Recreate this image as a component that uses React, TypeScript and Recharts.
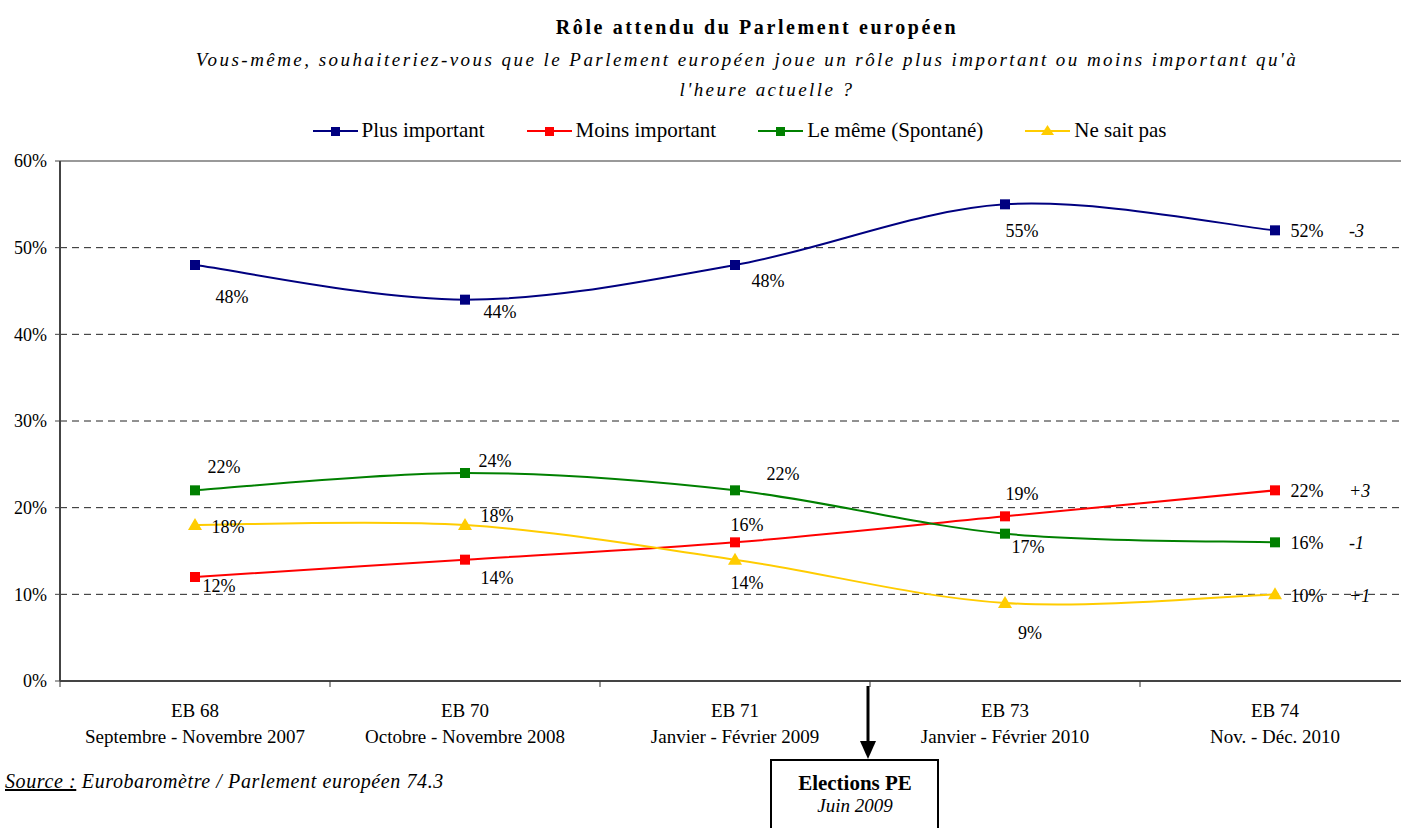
import React from 'react';
import {
  CartesianGrid,
  LabelList,
  Legend,
  Line,
  LineChart,
  ReferenceLine,
  XAxis,
  YAxis,
} from 'recharts';

const surveys = ['EB 68', 'EB 70', 'EB 71', 'EB 73', 'EB 74'];
const periods = [
  'Septembre - Novembre 2007',
  'Octobre - Novembre 2008',
  'Janvier - Février 2009',
  'Janvier - Février 2010',
  'Nov. - Déc. 2010',
];
const plusImportant = [48, 44, 48, 55, 52];
const moinsImportant = [12, 14, 16, 19, 22];
const leMeme = [22, 24, 22, 17, 16];
const neSaitPas = [18, 18, 14, 9, 10];
const yTicks = [0, 10, 20, 30, 40, 50, 60];

const series = [
  { key: 'plus', name: 'Plus important', values: plusImportant, change: '-3', color: '#000080', marker: 'square' },
  { key: 'moins', name: 'Moins important', values: moinsImportant, change: '+3', color: '#FF0000', marker: 'square' },
  { key: 'meme', name: 'Le même (Spontané)', values: leMeme, change: '-1', color: '#008000', marker: 'square' },
  { key: 'nsp', name: 'Ne sait pas', values: neSaitPas, change: '+1', color: '#FFCC00', marker: 'triangle' },
];

// label offsets from each point (text centre), per series
const labelOffsets: Record<string, number[][]> = {
  plus: [[37, 32], [35, 12], [33, 16], [17, 27], [32, 1]],
  moins: [[24, 9], [32, 18], [12, -17], [17, -22], [32, 1]],
  meme: [[29, -23], [30, -12], [48, -16], [23, 13], [32, 1]],
  nsp: [[33, 2], [32, -9], [12, 23], [25, 30], [32, 2]],
};

const data = surveys.map((s, i) => ({
  survey: s,
  plus: plusImportant[i],
  moins: moinsImportant[i],
  meme: leMeme[i],
  nsp: neSaitPas[i],
}));

const FONT = '"Liberation Serif", "Times New Roman", serif';
const CHART_W = 1420;
const CHART_H = 828;
const MARGIN = { top: 161, right: 10, bottom: 87, left: 0 };
const Y_AXIS_W = 60;
const X_AXIS_H = 60;
const PLOT_W = CHART_W - MARGIN.left - MARGIN.right - Y_AXIS_W;
const AXIS_Y = CHART_H - MARGIN.bottom - X_AXIS_H;
const HALF_STEP = PLOT_W / surveys.length / 2;

// Excel-like smoothed line (bezier with 1/6 tangents)
function excelCurve(context: any) {
  let xs: number[] = [];
  let ys: number[] = [];
  return {
    areaStart() {},
    areaEnd() {},
    lineStart() {
      xs = [];
      ys = [];
    },
    point(x: number, y: number) {
      xs.push(+x);
      ys.push(+y);
    },
    lineEnd() {
      const n = xs.length;
      if (!n) return;
      context.moveTo(xs[0], ys[0]);
      for (let i = 0; i < n - 1; i++) {
        const a = Math.max(i - 1, 0);
        const d = Math.min(i + 2, n - 1);
        context.bezierCurveTo(
          xs[i] + (xs[i + 1] - xs[a]) / 6,
          ys[i] + (ys[i + 1] - ys[a]) / 6,
          xs[i + 1] - (xs[d] - xs[i]) / 6,
          ys[i + 1] - (ys[d] - ys[i]) / 6,
          xs[i + 1],
          ys[i + 1]
        );
      }
    },
  };
}

function makeDot(color: string, marker: string) {
  return (props: any) => {
    const { cx, cy, index } = props;
    if (cx == null || cy == null) return <g key={index} />;
    if (marker === 'triangle') {
      return (
        <path
          key={index}
          d={`M${cx},${cy - 7} L${cx + 7},${cy + 5} L${cx - 7},${cy + 5} Z`}
          fill={color}
        />
      );
    }
    return <rect key={index} x={cx - 5} y={cy - 5} width={10} height={10} fill={color} />;
  };
}

function makeLabel(key: string, change: string) {
  return (props: any) => {
    const { x, y, value, index } = props;
    const [dx, dy] = labelOffsets[key][index];
    return (
      <g key={index}>
        <text
          x={x + dx}
          y={y + dy}
          textAnchor="middle"
          dominantBaseline="central"
          fontFamily={FONT}
          fontSize={18}
          fill="#000"
        >
          {`${value}%`}
        </text>
        {index === surveys.length - 1 && (
          <text
            x={x + 74}
            y={y + dy}
            dominantBaseline="central"
            fontFamily={FONT}
            fontStyle="italic"
            fontSize={18}
            fill="#000"
          >
            {change}
          </text>
        )}
      </g>
    );
  };
}

const XTick = (props: any) => {
  const { x, payload, index } = props;
  return (
    <g>
      {index === 0 && (
        <line x1={x - HALF_STEP} x2={x - HALF_STEP} y1={AXIS_Y} y2={AXIS_Y + 6} stroke="#333" />
      )}
      <line x1={x + HALF_STEP} x2={x + HALF_STEP} y1={AXIS_Y} y2={AXIS_Y + 6} stroke="#333" />
      <text x={x} y={AXIS_Y + 36} textAnchor="middle" fontFamily={FONT} fontSize={19} fill="#000">
        {payload.value}
      </text>
      <text x={x} y={AXIS_Y + 62} textAnchor="middle" fontFamily={FONT} fontSize={19} fill="#000">
        {periods[index]}
      </text>
    </g>
  );
};

const LegendContent = () => (
  <div
    style={{
      display: 'flex',
      justifyContent: 'center',
      gap: 42,
      fontFamily: FONT,
      fontSize: 21,
      color: '#000',
    }}
  >
    {series.map((s) => (
      <div key={s.key} style={{ display: 'flex', alignItems: 'center', gap: 4 }}>
        <svg width={45} height={16}>
          <line x1={0} x2={45} y1={8} y2={8} stroke={s.color} strokeWidth={2} />
          {s.marker === 'triangle' ? (
            <path d="M22.5,2 L29,12 L16,12 Z" fill={s.color} />
          ) : (
            <rect x={18} y={4} width={9} height={9} fill={s.color} />
          )}
        </svg>
        <span>{s.name}</span>
      </div>
    ))}
  </div>
);

export default function App() {
  return (
    <div
      style={{
        position: 'absolute',
        left: 0,
        top: 0,
        width: 1401,
        height: 828,
        overflow: 'hidden',
        background: '#fff',
        fontFamily: FONT,
      }}
    >
      <div
        style={{
          position: 'absolute',
          top: 15,
          left: 0,
          width: 1514,
          textAlign: 'center',
          fontWeight: 'bold',
          fontSize: 20,
          letterSpacing: 2.6,
          lineHeight: '24px',
        }}
      >
        Rôle attendu du Parlement européen
      </div>
      <div
        style={{
          position: 'absolute',
          top: 47,
          left: 0,
          width: 1494,
          textAlign: 'center',
          fontStyle: 'italic',
          fontSize: 19,
          letterSpacing: 2.45,
          lineHeight: '26px',
        }}
      >
        Vous-même, souhaiteriez-vous que le Parlement européen joue un rôle plus important ou moins important qu'à
      </div>
      <div
        style={{
          position: 'absolute',
          top: 77,
          left: 0,
          width: 1534,
          textAlign: 'center',
          fontStyle: 'italic',
          fontSize: 19,
          letterSpacing: 2.45,
          lineHeight: '26px',
        }}
      >
        l'heure actuelle ?
      </div>

      <LineChart width={CHART_W} height={CHART_H} data={data} margin={MARGIN}>
        <CartesianGrid
          vertical={false}
          horizontalValues={[10, 20, 30, 40, 50]}
          stroke="#222"
          strokeDasharray="7 5"
        />
        <ReferenceLine y={60} stroke="#999" strokeWidth={2} />
        <XAxis
          dataKey="survey"
          height={X_AXIS_H}
          padding={{ left: HALF_STEP, right: HALF_STEP }}
          axisLine={{ stroke: '#444', strokeWidth: 2 }}
          tickLine={false}
          tick={<XTick />}
          interval={0}
        />
        <YAxis
          width={Y_AXIS_W}
          domain={[0, 60]}
          ticks={yTicks}
          tickFormatter={(v) => `${v}%`}
          axisLine={{ stroke: '#444', strokeWidth: 2 }}
          tickLine={{ stroke: '#444' }}
          tickSize={5}
          tickMargin={8}
          tick={{ fontFamily: FONT, fontSize: 18, fill: '#000' }}
        />
        <Legend
          verticalAlign="middle"
          layout="horizontal"
          content={<LegendContent />}
          wrapperStyle={{ top: 118, left: 0, width: 1479 }}
        />
        {series.map((s) => (
          <Line
            key={s.key}
            dataKey={s.key}
            name={s.name}
            type={excelCurve as any}
            stroke={s.color}
            strokeWidth={2}
            dot={makeDot(s.color, s.marker)}
            activeDot={false}
            isAnimationActive={false}
          >
            <LabelList dataKey={s.key} content={makeLabel(s.key, s.change)} />
          </Line>
        ))}
      </LineChart>

      <svg
        width={1401}
        height={828}
        style={{ position: 'absolute', left: 0, top: 0, pointerEvents: 'none' }}
      >
        <line x1={868} x2={868} y1={686} y2={742} stroke="#000" strokeWidth={3} />
        <path d="M860,741 L876,741 L868,759 Z" fill="#000" />
        <rect x={771} y={760} width={167} height={80} fill="#fff" stroke="#000" strokeWidth={2} />
        <text x={855} y={790} textAnchor="middle" fontFamily={FONT} fontSize={21} fontWeight="bold">
          Elections PE
        </text>
        <text x={855} y={812} textAnchor="middle" fontFamily={FONT} fontSize={19} fontStyle="italic">
          Juin 2009
        </text>
      </svg>

      <div
        style={{
          position: 'absolute',
          left: 5,
          top: 770,
          fontStyle: 'italic',
          fontSize: 20,
          letterSpacing: 0.6,
        }}
      >
        <span style={{ textDecoration: 'underline' }}>Source :</span> Eurobaromètre / Parlement européen 74.3
      </div>
    </div>
  );
}
